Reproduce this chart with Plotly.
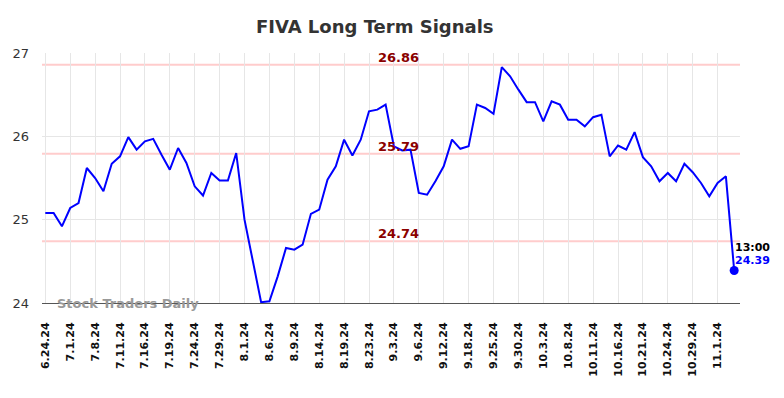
import plotly.graph_objects as go

tick_labels = ["6.24.24", "7.1.24", "7.8.24", "7.11.24", "7.16.24", "7.19.24", "7.24.24",
               "7.29.24", "8.1.24", "8.6.24", "8.9.24", "8.14.24", "8.19.24", "8.23.24",
               "9.3.24", "9.6.24", "9.12.24", "9.18.24", "9.25.24", "9.30.24", "10.3.24",
               "10.8.24", "10.11.24", "10.16.24", "10.21.24", "10.24.24", "10.29.24", "11.1.24"]

prices = [25.08, 25.08, 24.92, 25.14, 25.20, 25.62, 25.50, 25.34, 25.67, 25.76,
          25.99, 25.84, 25.94, 25.97, 25.78, 25.60, 25.86, 25.68, 25.40, 25.29,
          25.56, 25.47, 25.47, 25.80, 25.00, 24.52, 24.01, 24.02, 24.32, 24.66,
          24.64, 24.70, 25.07, 25.12, 25.48, 25.64, 25.96, 25.77, 25.96, 26.30,
          26.32, 26.38, 25.88, 25.83, 25.84, 25.32, 25.30, 25.46, 25.64, 25.96,
          25.85, 25.88, 26.38, 26.34, 26.27, 26.83, 26.72, 26.56, 26.41, 26.41,
          26.18, 26.42, 26.38, 26.20, 26.20, 26.12, 26.23, 26.26, 25.76, 25.89,
          25.84, 26.05, 25.75, 25.64, 25.46, 25.56, 25.46, 25.67, 25.57, 25.44,
          25.28, 25.44, 25.52, 24.39]

levels = [26.86, 25.79, 24.74]
last_time = "13:00"

x = list(range(len(prices)))
tick_vals = list(range(0, len(prices), 3))[:len(tick_labels)]

fig = go.Figure()
fig.add_trace(go.Scatter(x=x, y=prices, mode="lines",
                         line=dict(color="#0000ff", width=2), hoverinfo="skip"))
fig.add_trace(go.Scatter(x=[x[-1]], y=[prices[-1]], mode="markers",
                         marker=dict(color="#0000ff", size=9), hoverinfo="skip"))

for lv in levels:
    fig.add_shape(type="line", xref="paper", x0=0, x1=1, y0=lv, y1=lv,
                  line=dict(color="#ffcccc", width=2), layer="below")
    fig.add_annotation(x=42.6, y=lv, text=f"<b>{lv:.2f}</b>", showarrow=False,
                       yanchor="bottom", yshift=-2,
                       font=dict(family="DejaVu Sans", size=13, color="#8b0000"))

fig.add_annotation(x=x[-1], y=prices[-1], text=f"<b>{last_time}</b>", showarrow=False,
                   xanchor="left", yanchor="middle", xshift=-1, yshift=23,
                   font=dict(family="DejaVu Sans", size=11, color="#000000"))
fig.add_annotation(x=x[-1], y=prices[-1], text=f"<b>{prices[-1]:.2f}</b>", showarrow=False,
                   xanchor="left", yanchor="middle", xshift=-1, yshift=10,
                   font=dict(family="DejaVu Sans", size=11, color="#0000ff"))

fig.add_annotation(xref="paper", yref="paper", x=0.018, y=0, text="<b>Stock Traders Daily</b>",
                   showarrow=False, xanchor="left", yanchor="middle",
                   font=dict(family="DejaVu Sans", size=13, color="#999999"))

fig.update_layout(
    width=784, height=398,
    margin=dict(l=39, r=44, t=53, b=95),
    paper_bgcolor="white", plot_bgcolor="white",
    showlegend=False,
    title=dict(text="<b>FIVA Long Term Signals</b>", x=0.478, xanchor="center",
               y=0.932, yanchor="middle", yref="container",
               font=dict(family="DejaVu Sans", size=18, color="#333333")),
    xaxis=dict(range=[-0.4, 83.7], tickvals=tick_vals,
               ticktext=[f"<b>{t}</b>" for t in tick_labels],
               tickangle=-90, showgrid=True, gridcolor="#e6e6e6", gridwidth=1,
               zeroline=False, showline=True, linecolor="#555555", linewidth=1,
               ticks="", ticklabelstandoff=14,
               tickfont=dict(family="DejaVu Sans", size=11, color="#111111")),
    yaxis=dict(range=[24, 27], tickvals=[24, 25, 26, 27], showgrid=True,
               gridcolor="#e6e6e6", gridwidth=1, zeroline=False, ticks="",
               ticklabelstandoff=12,
               tickfont=dict(family="DejaVu Sans", size=13, color="#333333")),
)

fig.write_html("out.html", config={"displayModeBar": False},
               post_script="document.body.style.margin='0px';")
